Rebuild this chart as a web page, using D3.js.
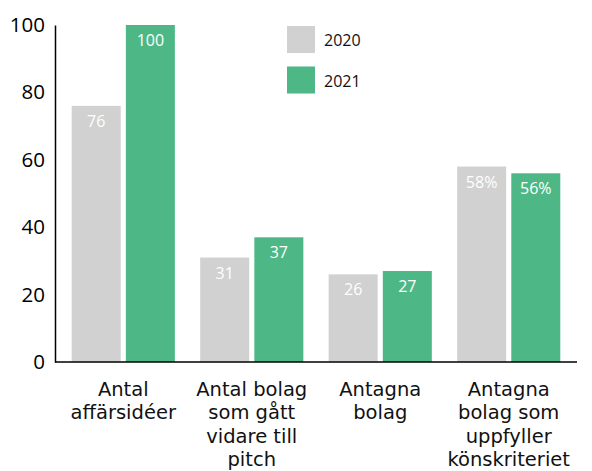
<!DOCTYPE html>
<html><head><meta charset="utf-8">
<script src="https://cdn.jsdelivr.net/npm/d3@7"></script>
<style>body{margin:0;background:#fff}svg{display:block}text{font-family:"Open Sans","Noto Sans",sans-serif}</style>
</head><body><svg id="c" width="592" height="471"></svg>
<script>
const categories = [["Antal","affärsidéer"],["Antal bolag","som gått","vidare till","pitch"],["Antagna","bolag"],["Antagna","bolag som","uppfyller","könskriteriet"]];
const series = ["2020","2021"];
const values2020 = [76,31,26,58];
const values2021 = [100,37,27,56];
const labelSuffix = ["","","","%"];
const yTicks = [0,20,40,60,80,100];
const colors = ["#d0d1d0","#4db886"];

const svg = d3.select("#c");
const x0 = 55, x1 = 577, yTop = 25, yBot = 362;
const y = d3.scaleLinear().domain([0,100]).range([yBot,yTop]);
const xb = d3.scaleBand().domain(d3.range(categories.length)).range([x0,x1]).paddingInner(0.197).paddingOuter(0.13);
const xs = d3.scaleBand().domain(series).range([0,xb.bandwidth()]).paddingInner(0.095);

const data = categories.map((c,i)=>({i, vals:[values2020[i],values2021[i]]}));
const g = svg.append("g");
data.forEach(d=>{
  d.vals.forEach((v,k)=>{
    const bx = xb(d.i)+xs(series[k]);
    g.append("rect").attr("x",bx).attr("y",y(v)).attr("width",xs.bandwidth()).attr("height",y(0)-y(v)).attr("fill",colors[k]);
    g.append("text").attr("x",bx+xs.bandwidth()/2).attr("y",y(v)+21).attr("text-anchor","middle")
      .attr("fill","#fff").attr("font-size",16).text(v+labelSuffix[d.i]);
  });
});

// axes
const yAxis = d3.axisLeft(y).tickValues(yTicks).tickSize(0).tickPadding(10);
const ya = svg.append("g").attr("transform",`translate(${x0},0)`).call(yAxis);
ya.select(".domain").attr("stroke","#000").attr("stroke-width",1.5);
ya.selectAll("text").attr("font-size",20.5).attr("fill","#000").attr("font-family","'Open Sans','Noto Sans',sans-serif");
svg.append("line").attr("x1",x0).attr("x2",x1).attr("y1",yBot).attr("y2",yBot).attr("stroke","#000").attr("stroke-width",1.5);

// category labels
data.forEach(d=>{
  const t = svg.append("text").attr("text-anchor","middle").attr("font-size",19.5).attr("fill","#111")
    .style("font-family","'DejaVu Sans',sans-serif");
  categories[d.i].forEach((line,j)=>{
    t.append("tspan").attr("x",xb(d.i)+xb.bandwidth()/2).attr("y",396+j*23.4).text(line);
  });
});

// legend
series.forEach((s,k)=>{
  const ly = 26 + k*40.5;
  svg.append("rect").attr("x",287).attr("y",ly).attr("width",28).attr("height",27).attr("fill",colors[k]);
  svg.append("text").attr("x",324).attr("y",ly+20).attr("font-size",16).attr("fill","#111").text(s);
});
</script></body></html>
